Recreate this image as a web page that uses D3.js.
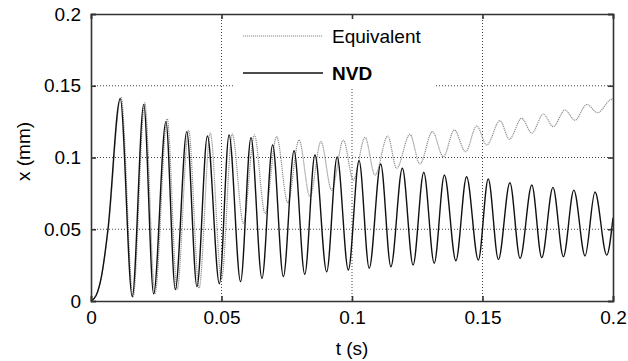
<!DOCTYPE html>
<html>
<head>
<meta charset="utf-8">
<script src="https://cdn.jsdelivr.net/npm/d3@7"></script>
<style>
  body { margin: 0; background: #fff; }
  text { font-family: "Liberation Sans", Arial, sans-serif; fill: #000; }
</style>
</head>
<body>
<div id="chart"></div>
<script>
// tick values
const xTicks = [0, 0.05, 0.1, 0.15, 0.2];
const yTicks = [0, 0.05, 0.1, 0.15, 0.2];

// NVD response: peaks and troughs
const nvdTime = [0, 0.002, 0.004, 0.0065, 0.0112, 0.0158, 0.0202, 0.024, 0.0287, 0.0323, 0.0367, 0.0406,
  0.0446, 0.0492, 0.0529, 0.0573, 0.0613, 0.0655, 0.0696, 0.0737, 0.0778, 0.0819, 0.0858, 0.0903,
  0.0943, 0.0986, 0.1027, 0.1066, 0.111, 0.1149, 0.1193, 0.1234, 0.1275, 0.1315, 0.1354, 0.1398,
  0.1439, 0.1484, 0.1522, 0.1561, 0.1605, 0.1644, 0.1689, 0.1727, 0.177, 0.181, 0.185, 0.1893,
  0.1931, 0.1976, 0.2];
const nvdDisp = [0, 0.004, 0.017, 0.05, 0.141, 0.003, 0.137, 0.005, 0.125, 0.008, 0.118, 0.010,
  0.115, 0.012, 0.1157, 0.0135, 0.1138, 0.0158, 0.1087, 0.017, 0.1047, 0.0186, 0.1017, 0.0204,
  0.1003, 0.0216, 0.0978, 0.0228, 0.0955, 0.0239, 0.0925, 0.0251, 0.0897, 0.0263, 0.0878, 0.0281,
  0.0866, 0.0286, 0.085, 0.029, 0.0824, 0.0297, 0.0808, 0.0302, 0.0792, 0.0309, 0.0773, 0.0314,
  0.076, 0.032, 0.058];

// Equivalent model response
const eqTime = [0, 0.002, 0.004, 0.0066, 0.0115, 0.0161, 0.0206, 0.0245, 0.0292, 0.033, 0.0374, 0.0414,
  0.0457, 0.05, 0.0541, 0.0584, 0.0626, 0.0667, 0.0711, 0.0754, 0.0797, 0.0839, 0.0881, 0.0922,
  0.0967, 0.1005, 0.105, 0.1088, 0.1137, 0.1171, 0.1222, 0.126, 0.1308, 0.135, 0.1392, 0.1435,
  0.1478, 0.1516, 0.1567, 0.1603, 0.165, 0.1689, 0.1733, 0.1771, 0.1816, 0.1854, 0.19, 0.1941,
  0.1988, 0.2];
const eqDisp = [0, 0.004, 0.017, 0.05, 0.142, 0.003, 0.138, 0.005, 0.127, 0.008, 0.119, 0.009,
  0.117, 0.015, 0.1164, 0.054, 0.1157, 0.061, 0.1145, 0.0685, 0.1122, 0.0727, 0.111, 0.0773,
  0.1122, 0.0843, 0.114, 0.0878, 0.115, 0.0925, 0.1161, 0.0955, 0.118, 0.1005, 0.1192, 0.104,
  0.122, 0.1087, 0.1257, 0.1127, 0.1273, 0.117, 0.1303, 0.1215, 0.1331, 0.126, 0.137, 0.1312,
  0.14, 0.141];

const seriesNames = ['Equivalent', 'NVD'];

const width = 628, height = 361;
const margin = { top: 14, right: 15, bottom: 60, left: 91 };
const chartWidth = width - margin.left - margin.right;
const chartHeight = height - margin.top - margin.bottom;

const svg = d3.select('#chart').append('svg')
  .attr('width', width)
  .attr('height', height);

const g = svg.append('g')
  .attr('transform', `translate(${margin.left},${margin.top})`);

const xScale = d3.scaleLinear().domain([0, 0.2]).range([0, chartWidth]);
const yScale = d3.scaleLinear().domain([0, 0.2]).range([chartHeight, 0]);

// grid
g.append('g').selectAll('line')
  .data(xTicks.slice(1, -1))
  .join('line')
  .attr('x1', d => xScale(d)).attr('x2', d => xScale(d))
  .attr('y1', 0).attr('y2', chartHeight)
  .attr('stroke', '#444').attr('stroke-width', 1).attr('stroke-dasharray', '1,2');

g.append('g').selectAll('line')
  .data(yTicks.slice(1, -1))
  .join('line')
  .attr('y1', d => yScale(d)).attr('y2', d => yScale(d))
  .attr('x1', 0).attr('x2', chartWidth)
  .attr('stroke', '#444').attr('stroke-width', 1).attr('stroke-dasharray', '1,2');

// lines
const eqData = eqTime.map((t, i) => ({ t, x: eqDisp[i] }));
const nvdData = nvdTime.map((t, i) => ({ t, x: nvdDisp[i] }));

const line = d3.line()
  .x(d => xScale(d.t))
  .y(d => yScale(d.x))
  .curve(d3.curveMonotoneX);

g.append('path')
  .datum(eqData)
  .attr('d', line)
  .attr('fill', 'none')
  .attr('stroke', '#909090')
  .attr('stroke-width', 1.2)
  .attr('stroke-dasharray', '1.2,0.8');

g.append('path')
  .datum(nvdData)
  .attr('d', line)
  .attr('fill', 'none')
  .attr('stroke', '#111')
  .attr('stroke-width', 1.4);

// legend (white box hides grid behind it)
const legend = g.append('g');
legend.append('rect')
  .attr('x', 143).attr('y', 1)
  .attr('width', 202).attr('height', 74)
  .attr('fill', '#fff');

legend.append('line')
  .attr('x1', 152).attr('x2', 232).attr('y1', 22).attr('y2', 22)
  .attr('stroke', '#8a8a8a').attr('stroke-width', 1.2).attr('stroke-dasharray', '1.2,0.8');
legend.append('line')
  .attr('x1', 152).attr('x2', 232).attr('y1', 59).attr('y2', 59)
  .attr('stroke', '#111').attr('stroke-width', 1.6);

legend.selectAll('text')
  .data(seriesNames)
  .join('text')
  .attr('x', 241)
  .attr('y', (d, i) => 29 + i * 37)
  .attr('font-size', 19)
  .attr('font-weight', (d, i) => i === 1 ? 'bold' : 'normal')
  .text(d => d);

// axes, ticks inside on all four sides
const xAxisB = d3.axisBottom(xScale).tickValues(xTicks).tickSize(-5).tickPadding(10).tickFormat(d3.format('~g'));
const xAxisT = d3.axisTop(xScale).tickValues(xTicks).tickSize(-5).tickFormat('');
const yAxisL = d3.axisLeft(yScale).tickValues(yTicks).tickSize(-5).tickPadding(10).tickFormat(d3.format('~g'));
const yAxisR = d3.axisRight(yScale).tickValues(yTicks).tickSize(-5).tickFormat('');

const axes = [
  g.append('g').attr('transform', `translate(0,${chartHeight})`).call(xAxisB),
  g.append('g').call(xAxisT),
  g.append('g').call(yAxisL),
  g.append('g').attr('transform', `translate(${chartWidth},0)`).call(yAxisR)
];
axes.forEach(a => {
  a.select('.domain').attr('stroke', '#333').attr('stroke-width', 1.6);
  a.selectAll('.tick line').attr('stroke', '#333').attr('stroke-width', 1.6);
  a.selectAll('.tick text').attr('font-size', 19).attr('font-family', '"Liberation Sans", Arial, sans-serif').attr('fill', '#000');
});

// axis titles
svg.append('text')
  .attr('x', margin.left + chartWidth / 2)
  .attr('y', 355)
  .attr('text-anchor', 'middle')
  .attr('font-size', 19)
  .text('t (s)');

svg.append('text')
  .attr('transform', `translate(30,${margin.top + chartHeight / 2 - 6}) rotate(-90)`)
  .attr('text-anchor', 'middle')
  .attr('font-size', 19)
  .text('x (mm)');
</script>
</body>
</html>
